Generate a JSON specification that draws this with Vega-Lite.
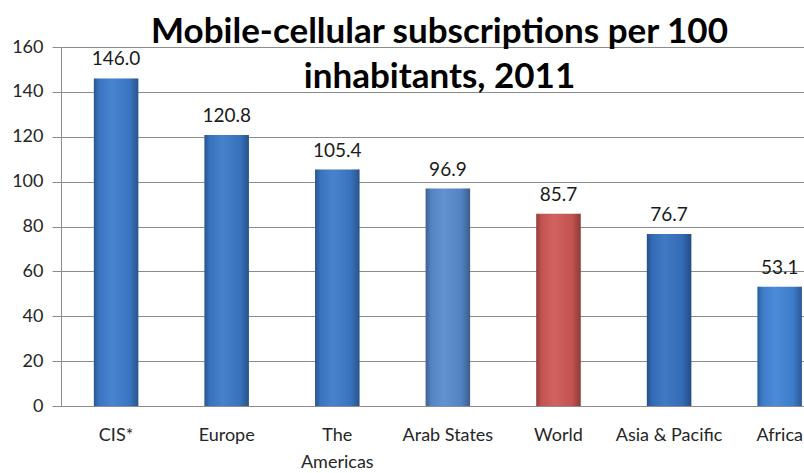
{
  "$schema": "https://vega.github.io/schema/vega-lite/v6.json",
  "width": 743,
  "height": 359,
  "autosize": {"type": "none"},
  "padding": {"left": 61, "top": 47, "right": 0, "bottom": 67},
  "background": "white",
  "title": {
    "text": ["Mobile-cellular subscriptions per 100", "inhabitants, 2011"],
    "font": "Lato",
    "fontSize": 35,
    "fontWeight": "bold",
    "color": "#000000",
    "anchor": "middle",
    "lineHeight": 45,
    "offset": -57,
    "dx": 7
  },
  "data": {
    "values": [
      {"region": "CIS*", "value": 146.0},
      {"region": "Europe", "value": 120.8},
      {"region": "The Americas", "value": 105.4},
      {"region": "Arab States", "value": 96.9},
      {"region": "World", "value": 85.7},
      {"region": "Asia & Pacific", "value": 76.7},
      {"region": "Africa", "value": 53.1}
    ]
  },
  "encoding": {
    "x": {
      "field": "region",
      "type": "nominal",
      "sort": null,
      "title": null,
      "scale": {"paddingInner": 0.598, "paddingOuter": 0.158, "align": 0.94},
      "axis": {
        "labelAngle": 0,
        "ticks": false,
        "domainColor": "#8c8c8c",
        "labelFont": "Lato",
        "labelFontSize": 18,
        "labelColor": "#262626",
        "labelPadding": 20,
        "labelLineHeight": 27,
        "labelExpr": "datum.label == 'The Americas' ? ['The', 'Americas'] : datum.label"
      }
    },
    "y": {
      "field": "value",
      "type": "quantitative",
      "title": null,
      "scale": {"domain": [0, 160], "nice": false},
      "axis": {
        "values": [0, 20, 40, 60, 80, 100, 120, 140, 160],
        "gridColor": "#8c8c8c",
        "domainColor": "#8c8c8c",
        "tickColor": "#8c8c8c",
        "tickSize": 9,
        "labelPadding": 9,
        "labelFont": "Lato",
        "labelFontSize": 18,
        "labelColor": "#262626"
      }
    }
  },
  "layer": [
    {
      "mark": {"type": "bar"},
      "encoding": {
        "color": {
          "field": "region",
          "type": "nominal",
          "legend": null,
          "scale": {
            "domain": ["CIS*", "Europe", "The Americas", "Arab States", "World", "Asia & Pacific", "Africa"],
            "range": ["#3d7ccd", "#3b79c8", "#3c7aca", "#588bcc", "#cf5855", "#3671c0", "#4084d6"]
          }
        }
      }
    },
    {
      "mark": {
        "type": "bar",
        "fill": {
          "gradient": "linear",
          "x1": 0, "x2": 1, "y1": 0, "y2": 0,
          "stops": [
            {"offset": 0, "color": "rgba(0,0,0,0.3)"},
            {"offset": 0.12, "color": "rgba(0,0,0,0.06)"},
            {"offset": 0.4, "color": "rgba(255,255,255,0.06)"},
            {"offset": 0.8, "color": "rgba(0,0,0,0.06)"},
            {"offset": 1, "color": "rgba(0,0,0,0.32)"}
          ]
        }
      }
    },
    {
      "mark": {
        "type": "text",
        "baseline": "alphabetic",
        "dy": -13,
        "font": "Lato",
        "fontSize": 19,
        "color": "#1a1a1a"
      },
      "encoding": {
        "text": {"field": "value", "type": "quantitative", "format": ".1f"}
      }
    }
  ]
}
